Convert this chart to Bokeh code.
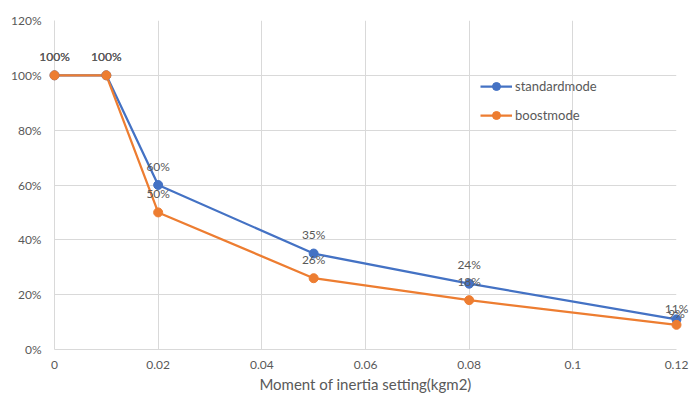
from bokeh.plotting import figure
from bokeh.models import ColumnDataSource, FixedTicker
from bokeh.core.properties import value
from bokeh.embed import file_html
from bokeh.resources import INLINE

# ---- data ----
inertia = [0, 0.01, 0.02, 0.05, 0.08, 0.12]
standard_mode = [100, 100, 60, 35, 24, 11]
boost_mode = [100, 100, 50, 26, 18, 9]
series_names = ["standardmode", "boostmode"]
x_ticks = [0, 0.02, 0.04, 0.06, 0.08, 0.1, 0.12]
x_tick_labels = ["0", "0.02", "0.04", "0.06", "0.08", "0.1", "0.12"]
y_ticks = [0, 20, 40, 60, 80, 100, 120]
y_tick_labels = ["0%", "20%", "40%", "60%", "80%", "100%", "120%"]
x_title = "Moment of inertia setting(kgm2)"

BLUE = "#4472C4"
ORANGE = "#ED7D31"
GRID = "#d9d9d9"
TXT = "#595959"
FONT = "Lato"

p = figure(width=689, height=398, output_backend="svg", toolbar_location=None,
           x_range=(0, 0.12), y_range=(0, 120),
           min_border_left=54, min_border_right=13, min_border_top=20, min_border_bottom=49)
p.outline_line_color = None
p.background_fill_color = "white"
p.border_fill_color = "white"

for ax in (p.xaxis[0], p.yaxis[0]):
    ax.axis_line_color = GRID
    ax.major_tick_line_color = None
    ax.minor_tick_line_color = None
    ax.major_tick_out = 0
    ax.major_tick_in = 0
    ax.major_label_text_color = TXT
    ax.major_label_text_font = FONT
    ax.major_label_text_font_size = "12px"

p.xaxis.ticker = FixedTicker(ticks=x_ticks)
p.yaxis.ticker = FixedTicker(ticks=y_ticks)
p.xaxis.major_label_overrides = {t: l for t, l in zip(x_ticks, x_tick_labels)}
p.yaxis.major_label_overrides = {t: l for t, l in zip(y_ticks, y_tick_labels)}
p.xaxis.major_label_standoff = 11
p.yaxis.major_label_standoff = 13
p.xaxis.axis_label = x_title
p.xaxis.axis_label_text_font = FONT
p.xaxis.axis_label_text_font_size = "15px"
p.xaxis.axis_label_text_font_style = "normal"
p.xaxis.axis_label_text_color = TXT
p.xaxis.axis_label_standoff = 3

p.xgrid.ticker = FixedTicker(ticks=x_ticks)
p.ygrid.ticker = FixedTicker(ticks=y_ticks)
p.grid.grid_line_color = GRID
p.grid.grid_line_width = 1

n = len(inertia)
# label placement (styling): labels above points; the last ones sit closer to their points
lab_dy = [-19] * (n - 1) + [-11]

for vals, color, name in ((standard_mode, BLUE, series_names[0]), (boost_mode, ORANGE, series_names[1])):
    src = ColumnDataSource(dict(x=inertia, y=vals, label=[f"{v}%" for v in vals], dy=lab_dy))
    p.line("x", "y", source=src, line_color=color, line_width=2.25, legend_label=name)
    r = p.scatter("x", "y", source=src, size=9, fill_color=color, line_color=color, legend_label=name)
    r.level = "overlay"
    t = p.text("x", "y", text="label", source=src, y_offset="dy",
               text_align="center", text_baseline="middle",
               text_font=value(FONT), text_font_size="12px", text_color=TXT)
    t.level = "overlay"

lg = p.legend[0]
lg.location = (426, 224)
lg.border_line_color = None
lg.background_fill_alpha = 0
lg.padding = 0
lg.margin = 0
lg.glyph_width = 32
lg.glyph_height = 20
lg.label_height = 20
lg.spacing = 9
lg.label_standoff = 3
lg.label_text_font = FONT
lg.label_text_font_size = "13px"
lg.label_text_color = TXT

open("out.html", "w").write(file_html(p, INLINE))
